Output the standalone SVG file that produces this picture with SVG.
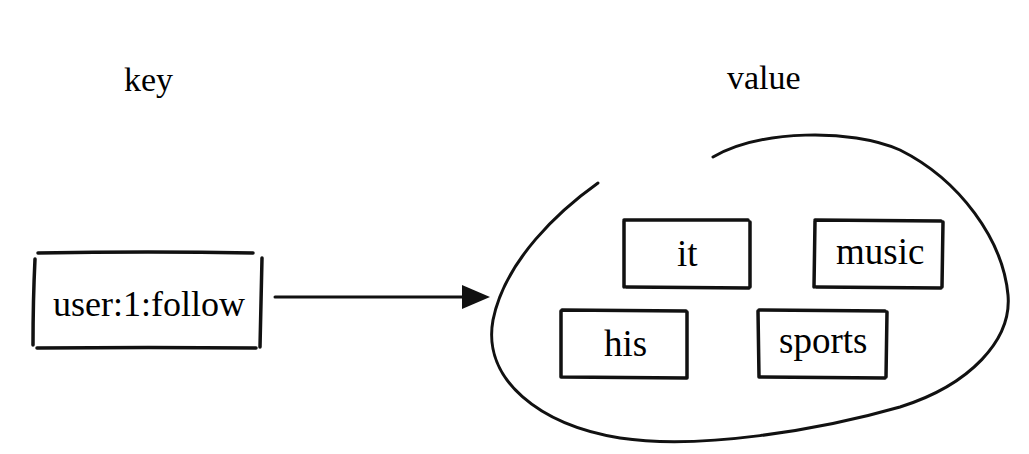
<svg xmlns="http://www.w3.org/2000/svg" width="1029" height="454" viewBox="0 0 1029 454">
  <rect width="1029" height="454" fill="#fff"/>

  <text x="124" y="91" font-size="34" font-family="Liberation Serif">key</text>
  <text x="727" y="89" font-size="34" font-family="Liberation Serif">value</text>

  <g id="key-node">
    <g fill="none" stroke="#111" stroke-width="3.5" stroke-linecap="round">
      <path d="M38,253 Q150,251 253,253"/>
      <path d="M37,348 Q150,347 256,348"/>
      <path d="M35,259 Q33,300 33,345"/>
      <path d="M262,258 Q261,300 260,347"/>
    </g>
    <text x="53" y="316" font-size="36" font-family="Liberation Serif">user:1:follow</text>
  </g>

  <g id="connectors">
    <line x1="275" y1="297" x2="464" y2="297" stroke="#111" stroke-width="3" stroke-linecap="round"/>
    <path d="M462,285 L490,297 L462,309 z" fill="#111"/>
  </g>

  <g id="value-set">
    <path fill="none" stroke="#111" stroke-width="3" stroke-linecap="round" d="M598,183 C560,210 505,260 493,320 C482,380 540,425 620,438 C700,450 820,430 900,407 C970,385 1012,340 1008,295 C1003,240 960,180 900,150 C850,128 760,130 713,157"/>
  </g>

  <g id="node-it">
    <path fill="none" stroke="#111" stroke-width="3.5" stroke-linecap="round" d="M624,221 L624,287 M624,220 L748,220 M750,222 L750,287 M626,287 L749,288"/>
    <text x="677" y="266" font-size="37" font-family="Liberation Serif">it</text>
  </g>
  <g id="node-music">
    <path fill="none" stroke="#111" stroke-width="3.5" stroke-linecap="round" d="M815,221 L814,287 M815,220 L941,221 M943,222 L942,287 M816,287 L941,288"/>
    <text x="836" y="264" font-size="37" font-family="Liberation Serif">music</text>
  </g>
  <g id="node-his">
    <path fill="none" stroke="#111" stroke-width="3.5" stroke-linecap="round" d="M561,311 L561,377 M562,310 L686,311 M687,312 L687,378 M562,377 L686,378"/>
    <text x="604" y="356" font-size="37" font-family="Liberation Serif">his</text>
  </g>
  <g id="node-sports">
    <path fill="none" stroke="#111" stroke-width="3.5" stroke-linecap="round" d="M758,311 L759,377 M759,310 L885,311 M887,312 L886,377 M760,377 L885,378"/>
    <text x="779" y="353" font-size="37" font-family="Liberation Serif">sports</text>
  </g>
</svg>
